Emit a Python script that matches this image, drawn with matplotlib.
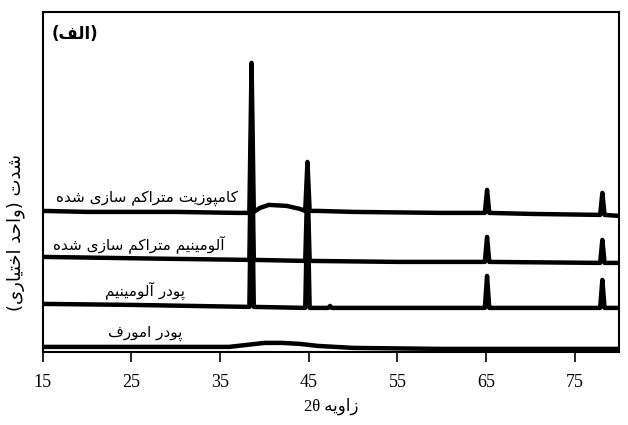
import matplotlib
matplotlib.use('Agg')
import matplotlib.pyplot as plt

# Persian letters -> presentation forms (isolated, final, initial, medial)
FORMS = {
    'ا': ('\uFE8D', '\uFE8E'),
    'آ': ('\uFE81', '\uFE82'),
    'د': ('\uFEA9', '\uFEAA'),
    'ر': ('\uFEAD', '\uFEAE'),
    'ز': ('\uFEAF', '\uFEB0'),
    'و': ('\uFEED', '\uFEEE'),
    'ب': ('\uFE8F', '\uFE90', '\uFE91', '\uFE92'),
    'پ': ('\uFB56', '\uFB57', '\uFB58', '\uFB59'),
    'ت': ('\uFE95', '\uFE96', '\uFE97', '\uFE98'),
    'ح': ('\uFEA1', '\uFEA2', '\uFEA3', '\uFEA4'),
    'خ': ('\uFEA5', '\uFEA6', '\uFEA7', '\uFEA8'),
    'س': ('\uFEB1', '\uFEB2', '\uFEB3', '\uFEB4'),
    'ش': ('\uFEB5', '\uFEB6', '\uFEB7', '\uFEB8'),
    'ف': ('\uFED1', '\uFED2', '\uFED3', '\uFED4'),
    'ق': ('\uFED5', '\uFED6', '\uFED7', '\uFED8'),
    'ک': ('\uFB8E', '\uFB8F', '\uFB90', '\uFB91'),
    'ل': ('\uFEDD', '\uFEDE', '\uFEDF', '\uFEE0'),
    'م': ('\uFEE1', '\uFEE2', '\uFEE3', '\uFEE4'),
    'ن': ('\uFEE5', '\uFEE6', '\uFEE7', '\uFEE8'),
    'ه': ('\uFEE9', '\uFEEA', '\uFEEB', '\uFEEC'),
    'ی': ('\uFBFC', '\uFBFD', '\uFBFE', '\uFBFF'),
}
MIRROR = {'(': ')', ')': '('}


def fa(text):
    # shape the letters, then reverse for left-to-right drawing
    out = []
    for i, ch in enumerate(text):
        if ch not in FORMS:
            out.append(MIRROR.get(ch, ch))
            continue
        prev = text[i - 1] if i > 0 else ''
        nxt = text[i + 1] if i + 1 < len(text) else ''
        join_prev = prev in FORMS and len(FORMS[prev]) == 4
        join_next = len(FORMS[ch]) == 4 and nxt in FORMS
        f = FORMS[ch]
        if join_prev and join_next:
            out.append(f[3])
        elif join_prev:
            out.append(f[1])
        elif join_next:
            out.append(f[2])
        else:
            out.append(f[0])
    return ''.join(reversed(out))


plt.rcParams['font.family'] = ['Liberation Serif', 'DejaVu Sans']

# XRD traces, 2theta (deg) and intensity (arbitrary, offset)
composite_x = [15, 20, 30, 37, 38.3, 38.55, 38.8, 39.5, 40.5, 42.5, 44.0, 44.6, 44.85, 45.1,
               46, 50, 60, 64.85, 65.1, 65.35, 70, 77.85, 78.1, 78.35, 80]
composite_y = [141, 140, 140, 139, 139, 289, 140, 144, 147, 146, 143, 141, 190, 141,
               141, 140, 139, 139, 162, 139, 138, 137, 159, 137, 136]

sintered_x = [15, 30, 38.3, 38.55, 38.8, 44.6, 44.85, 45.1, 55, 64.85, 65.1, 65.35,
              77.85, 78.1, 78.35, 80]
sintered_y = [95, 93, 92, 240, 92, 91, 170, 91, 90, 90, 115, 90, 89, 112, 89, 89]

powder_x = [15, 25, 38.3, 38.55, 38.8, 44.6, 44.85, 45.1, 47.2, 47.4, 47.6, 55,
            64.85, 65.1, 65.35, 77.85, 78.1, 78.35, 80]
powder_y = [48, 47, 45, 200, 45, 44, 150, 44, 44, 46, 44, 44, 44, 76, 44, 44, 72, 44, 44]

amorphous_x = [15, 30, 36, 38, 40, 42, 44, 46, 50, 60, 70, 80]
amorphous_y = [5, 5, 5, 7, 9, 9, 8, 6, 4, 3, 3, 3]

labels = ['کامپوزیت متراکم سازی شده', 'آلومینیم متراکم سازی شده', 'پودر آلومینیم', 'پودر امورف']
label_pos = [(26.8, 154), (25.8, 108), (26.5, 61), (26.5, 19)]

fig = plt.figure(figsize=(6.28, 4.25), dpi=100)
ax = fig.add_axes([0.068, 0.172, 0.918, 0.8])

for xs, ys in [(composite_x, composite_y), (sintered_x, sintered_y),
               (powder_x, powder_y), (amorphous_x, amorphous_y)]:
    ax.plot(xs, ys, color='black', linewidth=3.2, solid_joinstyle='round')

for text, (x, y) in zip(labels, label_pos):
    ax.text(x, y, fa(text), ha='center', va='center', fontsize=11, family='DejaVu Sans')

ax.text(16.0, 318, fa('(الف)'), ha='left', va='center', fontsize=12,
        fontweight='bold', family='DejaVu Sans')

ax.set_xlim(15, 80)
ax.set_ylim(0, 340)
ax.set_xticks([15, 25, 35, 45, 55, 65, 75])
ax.set_yticks([])
ax.tick_params(axis='x', direction='out', length=7, width=1.2, labelsize=13, pad=9)
for s in ax.spines.values():
    s.set_linewidth(1.5)

ax.set_xlabel('2θ ' + fa('زاویه'), fontsize=12, labelpad=5)
ax.set_ylabel(fa('شدت (واحد اختیاری)'), fontsize=13, family='DejaVu Sans')
ax.yaxis.set_label_coords(-0.031, 0.35)

fig.savefig('out.png', dpi=100)
